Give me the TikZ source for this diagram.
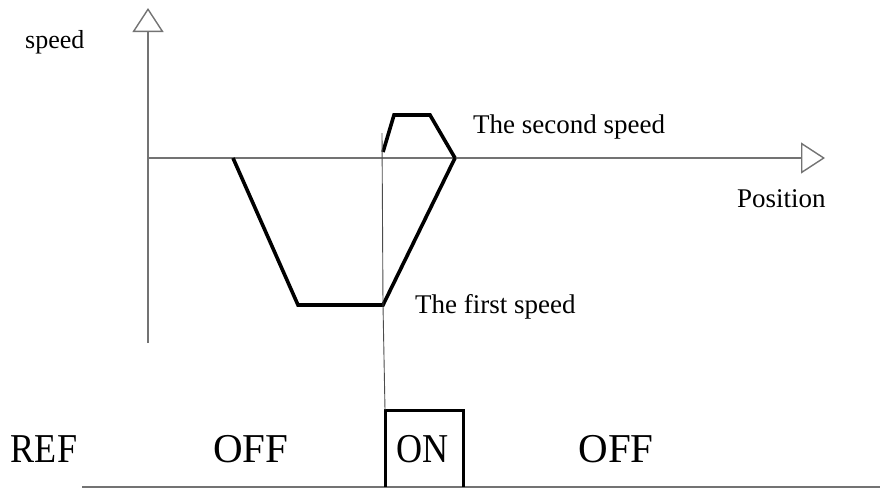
\documentclass[tikz,border=0pt]{standalone}
\usepackage{fontspec}
\setmainfont{Liberation Serif}
\usetikzlibrary{arrows.meta}

\begin{document}
\begin{tikzpicture}[
  x=1pt, y=-1pt,
  axis/.style={draw=black!55, line width=1.4pt,
    -{Triangle[open, length=24pt, width=31pt, line width=1.4pt]}},
  prof/.style={line width=3.6pt, line join=miter},
  lbl/.style={inner sep=0pt, anchor=base west, font=\fontsize{27}{30}\selectfont},
  state/.style={inner sep=0pt, anchor=base, font=\fontsize{41}{44}\selectfont}
]

\useasboundingbox (0,0) rectangle (880,488);

% axes
\coordinate (o) at (148,158);
\coordinate (vtop) at (148,8);
\coordinate (vbot) at (148,343);
\coordinate (htip) at (825,158);
\draw [axis] (vbot) -- (vtop);
\draw [axis] (o) -- (htip);

\node [lbl, font=\fontsize{26}{30}\selectfont] (vlab) at (25,48) {speed};
\node [lbl] (hlab) at (737,207) {Position};

% first speed
\coordinate (a1) at (233,158);
\coordinate (a2) at (298,305);
\coordinate (a3) at (383,305);
\coordinate (a4) at (455,158);
\draw [prof] (a1) -- (a2) -- (a3) -- (a4);

% second speed
\coordinate (b1) at (383,152);
\coordinate (b2) at (394,115);
\coordinate (b3) at (430,115);
\draw [prof] (b1) -- (b2) -- (b3) -- (a4);

\node [lbl] (l1) at (415,313) {The first speed};
\node [lbl] (l2) at (473,133) {The second speed};

% REF signal
\coordinate (s0) at (82,487);
\coordinate (s1) at (880,487);
\coordinate (r1) at (385,487);
\coordinate (r2) at (385,410);
\coordinate (r3) at (463,410);
\coordinate (r4) at (463,487);
\draw [black!55, line width=2pt] (s0) -- (s1);
\draw [line width=3pt] (r1) -- (r2) -- (r3) -- (r4);

\coordinate (m) at (382,133);
\draw [black!70, line width=0.9pt] (m) -- (a3) -- (r2);

\node [state] (ref) at (44,462) {\scalebox{0.88}[1]{REF}};
\node [state] (off1) at (251,462) {OFF};
\node [state] (on) at (423,462) {\scalebox{0.88}[1]{ON}};
\node [state] (off2) at (616,462) {OFF};

\end{tikzpicture}
\end{document}
